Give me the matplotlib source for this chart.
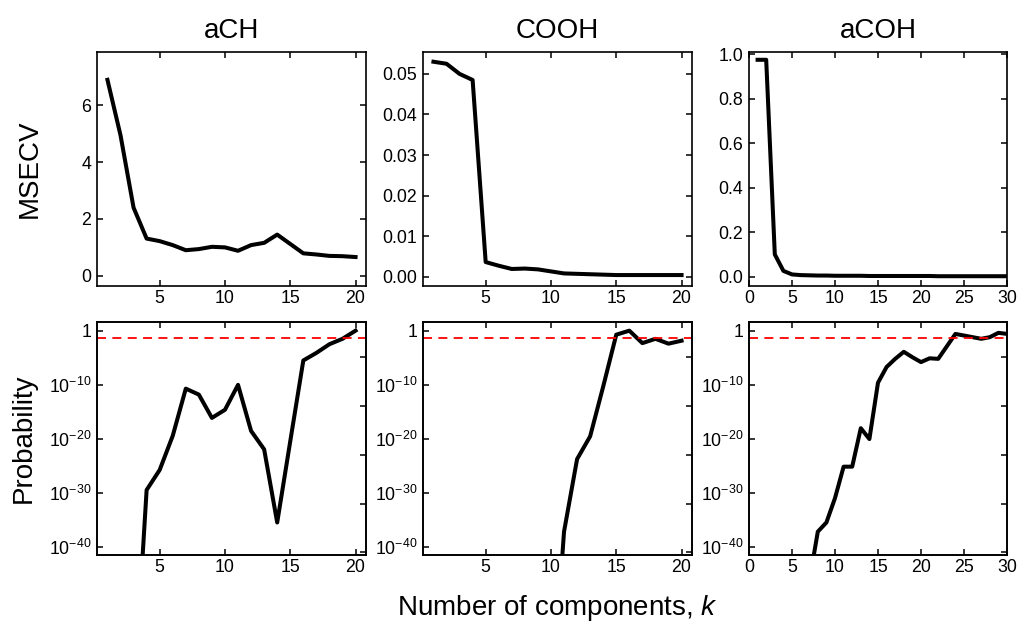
import numpy as np
import matplotlib
matplotlib.use("Agg")
import matplotlib.pyplot as plt
from matplotlib.ticker import FixedLocator, NullLocator, FuncFormatter

plt.rcParams["font.family"] = ["Liberation Sans", "DejaVu Sans"]
plt.rcParams["mathtext.fontset"] = "custom"
plt.rcParams["mathtext.rm"] = "Liberation Sans"
plt.rcParams["mathtext.it"] = "Liberation Sans:italic"
plt.rcParams["axes.linewidth"] = 1.2

# groups shown in the three columns
groups = ["aCH", "COOH", "aCOH"]

k20 = list(range(1, 21))
k30 = list(range(1, 31))

# cross-validated mean squared error
msecv_ach = [6.9, 4.95, 2.4, 1.31, 1.22, 1.08, 0.9, 0.94, 1.02, 1.0,
             0.88, 1.08, 1.16, 1.45, 1.12, 0.79, 0.75, 0.7, 0.69, 0.66]
msecv_cooh = [0.0530, 0.0525, 0.0500, 0.0485, 0.0036, 0.0027, 0.0019, 0.0020, 0.0018, 0.0013,
              0.0008, 0.0007, 0.0006, 0.0005, 0.0004, 0.0004, 0.0004, 0.0004, 0.0004, 0.0004]
msecv_acoh = [0.975, 0.975, 0.10, 0.026, 0.010, 0.007, 0.006, 0.005, 0.005, 0.004,
              0.004, 0.004, 0.004, 0.003, 0.003, 0.003, 0.003, 0.003, 0.003, 0.003,
              0.003, 0.002, 0.002, 0.002, 0.002, 0.002, 0.002, 0.002, 0.002, 0.002]

# log10 of the probability
logp_ach = [-110, -90, -69, -29.4, -25.7, -19.4, -10.7, -11.8, -16.1, -14.6,
            -10.0, -18.5, -21.9, -35.4, -20.4, -5.5, -4.1, -2.5, -1.5, 0.0]
logp_cooh = [-160, -150, -140, -130, -120, -110, -100, -90, -80, -71,
             -37.1, -23.7, -19.5, -10.3, -0.74, 0.0, -2.3, -1.5, -2.4, -1.85]
logp_acoh = [-90, -80, -72, -65, -58, -52, -46.4, -37.1, -35.4, -30.9,
             -25.1, -25.1, -18.0, -20.0, -9.6, -6.7, -5.2, -3.9, -4.9, -5.8,
             -5.1, -5.2, -2.9, -0.6, -0.9, -1.2, -1.5, -1.2, -0.4, -0.6]

alpha = 0.05

xs = [k20, k20, k30]
msecv = [msecv_ach, msecv_cooh, msecv_acoh]
logp = [logp_ach, logp_cooh, logp_acoh]
xlims = [(0.2, 20.8), (0.2, 20.8), (0, 30)]
xticks = [[5, 10, 15, 20], [5, 10, 15, 20], [0, 5, 10, 15, 20, 25, 30]]
ylims_top = [(-0.36, 7.88), (-0.0023, 0.0554), (-0.042, 1.01)]
yticks_top = [[0, 2, 4, 6], [0, 0.01, 0.02, 0.03, 0.04, 0.05], [0, 0.2, 0.4, 0.6, 0.8, 1.0]]
yfmt_top = ["{:g}", "{:.2f}", "{:.1f}"]

W, H = 1021, 632
fig = plt.figure(figsize=(W / 100, H / 100), dpi=100)

cols = [(97, 269), (423, 269), (749, 258)]
row_top = (52, 286)
row_bot = (322, 555)


def box(col, row):
    l, w = col
    t, b = row
    return [l / W, 1 - b / H, w / W, (b - t) / H]


def style(ax, right=True):
    ax.tick_params(direction="in", length=4, width=1.1, top=True, right=right,
                   labelsize=12.8, pad=4)
    ax.tick_params(axis="x", pad=3)


logfmt = FuncFormatter(lambda v, p: "1" if abs(v - 1) < 1e-12 else r"$10^{%d}$" % round(np.log10(v)))

for i in range(3):
    # MSECV row
    ax = fig.add_axes(box(cols[i], row_top))
    ax.plot(xs[i], msecv[i], color="black", lw=2.9)
    ax.set_xlim(*xlims[i])
    ax.set_ylim(*ylims_top[i])
    ax.set_xticks(xticks[i])
    ax.set_yticks(yticks_top[i])
    ax.yaxis.set_major_formatter(FuncFormatter(lambda v, p, f=yfmt_top[i]: f.format(v)))
    style(ax)
    ax.set_title(groups[i], fontsize=20, pad=10)

    # probability row
    ax2 = fig.add_axes(box(cols[i], row_bot))
    p = 10.0 ** np.array(logp[i], dtype=float)
    ax2.plot(xs[i], p, color="black", lw=2.9)
    ax2.axhline(alpha, color="red", lw=1.3, ls=(0, (5, 3.5)))
    ax2.set_yscale("log")
    ax2.set_xlim(*xlims[i])
    ax2.set_ylim(10 ** -41.4, 10 ** 1.6)
    ax2.set_xticks(xticks[i])
    ax2.yaxis.set_major_locator(FixedLocator([1e-40, 1e-30, 1e-20, 1e-10, 1]))
    ax2.yaxis.set_minor_locator(NullLocator())
    ax2.yaxis.set_major_formatter(logfmt)
    style(ax2, right=False)

    # right-hand ticks sit on their own scale
    tw = ax2.twinx()
    tw.set_yscale("log")
    tw.set_ylim(10 ** -41.4, 10 ** 1.6)
    tw.yaxis.set_major_locator(FixedLocator([10 ** -40.9, 10 ** -31.9, 10 ** -22.9, 10 ** -13.9, 10 ** -4.9]))
    tw.yaxis.set_minor_locator(NullLocator())
    tw.tick_params(direction="in", length=4, width=1.1, labelright=False)

fig.text(30 / W, 1 - 169 / H, "MSECV", rotation=90, ha="center", va="center", fontsize=20)
fig.text(24 / W, 1 - 438 / H, "Probability", rotation=90, ha="center", va="center", fontsize=20)
fig.text(557 / W, 1 - 608 / H, r"Number of components, $\mathit{k}$", ha="center", va="center", fontsize=20)

fig.savefig("out.png", dpi=100)
